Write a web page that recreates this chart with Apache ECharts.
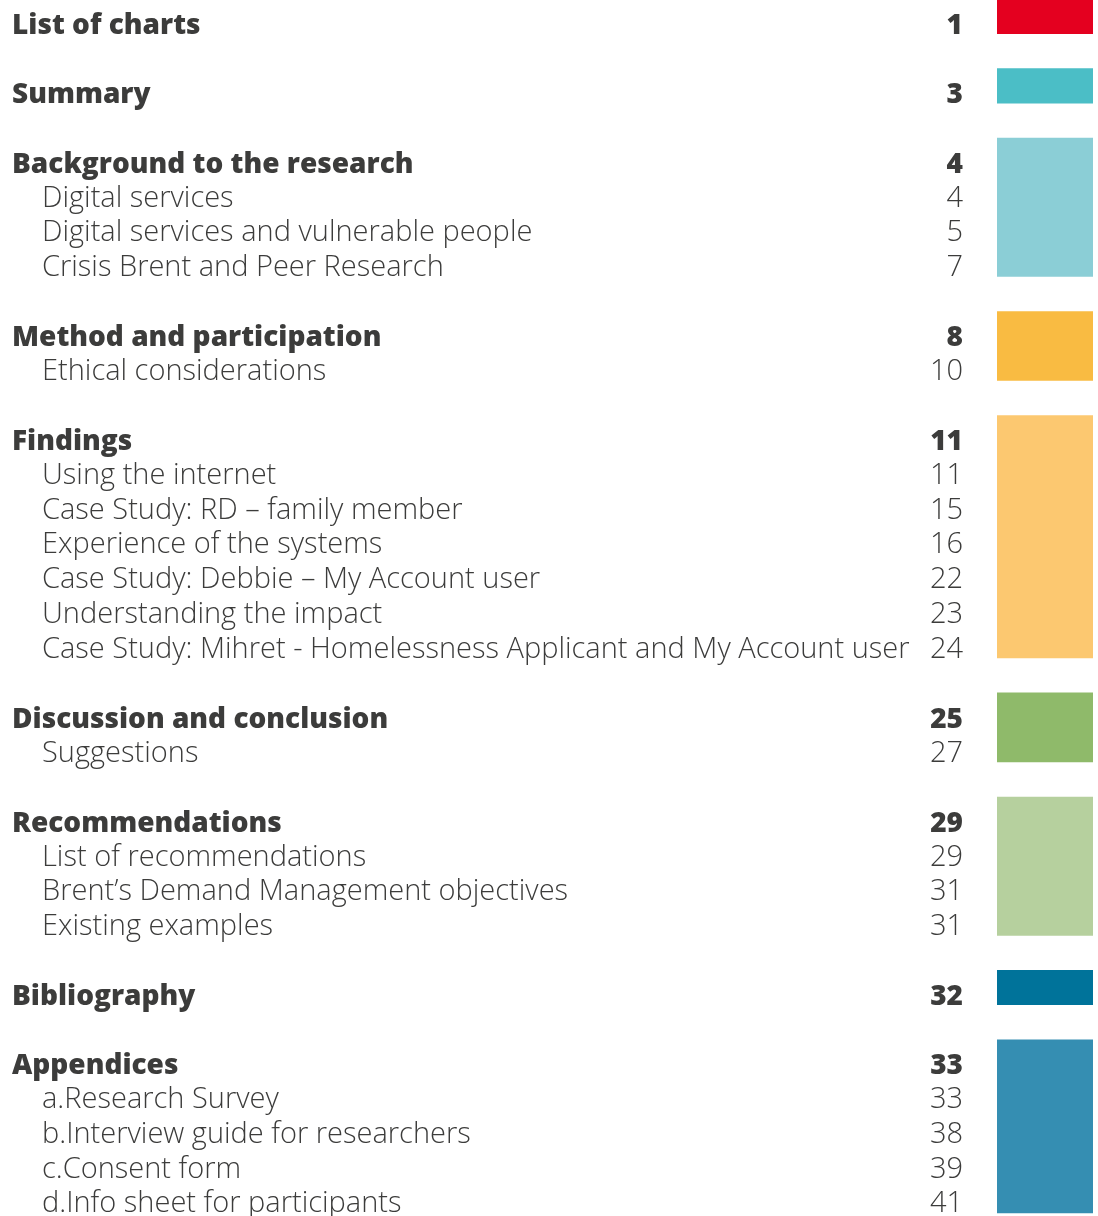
<!DOCTYPE html>
<html>
<head>
<meta charset="utf-8">
<script src="https://cdn.jsdelivr.net/npm/echarts@6/dist/echarts.min.js"></script>
<style>
  html, body { margin: 0; padding: 0; background: #fff; }
  #toc { width: 1098px; height: 1216px; }
</style>
</head>
<body>
<div id="toc"></div>
<script>
// contents entries (row = line slot on the page)
const entryTitles = [
    'List of charts', 'Summary',
    'Background to the research', 'Digital services', 'Digital services and vulnerable people', 'Crisis Brent and Peer Research',
    'Method and participation', 'Ethical considerations',
    'Findings', 'Using the internet', 'Case Study: RD \u2013 family member', 'Experience of the systems',
    'Case Study: Debbie \u2013 My Account user', 'Understanding the impact',
    'Case Study: Mihret - Homelessness Applicant and My Account user',
    'Discussion and conclusion', 'Suggestions',
    'Recommendations', 'List of recommendations', 'Brent\u2019s Demand Management objectives', 'Existing examples',
    'Bibliography',
    'Appendices', 'a.Research Survey', 'b.Interview guide for researchers', 'c.Consent form', 'd.Info sheet for participants'
];
const entryPages = [1, 3, 4, 4, 5, 7, 8, 10, 11, 11, 15, 16, 22, 23, 24, 25, 27, 29, 29, 31, 31, 32, 33, 33, 38, 39, 41];
const entryLevels = [0, 0, 0, 1, 1, 1, 0, 1, 0, 1, 1, 1, 1, 1, 1, 0, 1, 0, 1, 1, 1, 0, 0, 1, 1, 1, 1];
const entryRows = [0, 2, 4, 5, 6, 7, 9, 10, 12, 13, 14, 15, 16, 17, 18, 20, 21, 23, 24, 25, 26, 28, 30, 31, 32, 33, 34];

// coloured section tabs
const sectionStart = [0, 2, 4, 9, 12, 20, 23, 28, 30];
const sectionEnd = [0, 2, 7, 10, 18, 21, 26, 28, 34];
const sectionColors = ['#E4001F', '#4BBEC6', '#8BCED6', '#F9BB42', '#FCC870', '#8FBA6A', '#B6D09E', '#00739A', '#358EB2'];

const textColor = '#3C3C3B';
const headFont = '800 28px "Open Sans", Lato, sans-serif';
const subFont = '300 29px "Open Sans", Lato, sans-serif';

var chart = echarts.init(document.getElementById('toc'), null, { renderer: 'canvas' });

var entryData = entryTitles.map(function (t, i) {
    return [entryRows[i], entryLevels[i], t, entryPages[i]];
});
var tabData = sectionStart.map(function (s, i) {
    return [sectionStart[i], sectionEnd[i], i];
});

chart.setOption({
    animation: false,
    grid: { left: 0, right: 0, top: 0, bottom: 0 },
    xAxis: { type: 'value', min: 0, max: 1098, show: false },
    yAxis: { type: 'value', inverse: true, min: -0.9516, max: 34.112, show: false },
    series: [
        {
            type: 'custom',
            data: tabData,
            renderItem: function (params, api) {
                var top = api.coord([997, api.value(0) - 0.98]);
                var bottom = api.coord([1093, api.value(1) + 0.03]);
                return {
                    type: 'rect',
                    shape: { x: top[0], y: top[1], width: bottom[0] - top[0], height: bottom[1] - top[1] },
                    style: { fill: sectionColors[api.value(2)] }
                };
            }
        },
        {
            type: 'custom',
            data: entryData,
            renderItem: function (params, api) {
                var d = entryData[params.dataIndex];
                var head = d[1] === 0;
                var left = api.coord([head ? 12 : 42, d[0]]);
                var right = api.coord([963, d[0]]);
                var font = head ? headFont : subFont;
                var dy = head ? -7 : -8;
                return {
                    type: 'group',
                    children: [
                        {
                            type: 'text',
                            style: { text: d[2], x: left[0], y: left[1] + dy, font: font, fill: textColor, align: 'left', verticalAlign: 'middle' }
                        },
                        {
                            type: 'text',
                            style: { text: String(d[3]), x: right[0], y: right[1] + dy, font: font, fill: textColor, align: 'right', verticalAlign: 'middle' }
                        }
                    ]
                };
            }
        }
    ]
});
</script>
</body>
</html>
